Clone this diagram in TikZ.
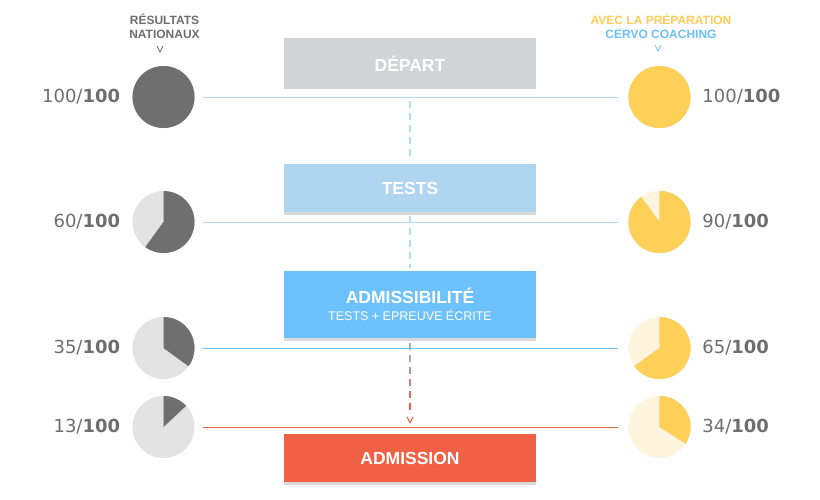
\documentclass[tikz,border=0pt]{standalone}
\usepackage{fontspec}
\setmainfont{Liberation Sans}
\newfontfamily\numfont{DejaVu Sans}
\usetikzlibrary{positioning,calc}

\definecolor{pieDark}{HTML}{6F6F6F}
\definecolor{pieGrey}{HTML}{E3E3E3}
\definecolor{pieShadeL}{HTML}{C8C8C8}
\definecolor{pieYellow}{HTML}{FFD057}
\definecolor{pieCream}{HTML}{FFF4DE}
\definecolor{pieShadeR}{HTML}{D8D2C6}
\definecolor{txtGrey}{HTML}{6E6E6E}
\definecolor{departGrey}{HTML}{D2D3D5}
\definecolor{testsBlue}{HTML}{B0D5F0}
\definecolor{admBlue}{HTML}{6DC1FD}
\definecolor{admRed}{HTML}{F06044}
\definecolor{boxShadow}{HTML}{D9D9D9}
\definecolor{lineBlue}{HTML}{B3DBF0}
\definecolor{lineMid}{HTML}{6EC2FA}
\definecolor{lineRed}{HTML}{E8654C}
\definecolor{flowBlue}{HTML}{B1DCF5}
\definecolor{flowGrey}{HTML}{8FB8E0}
\definecolor{hdYellow}{HTML}{FFCC55}
\definecolor{hdBlue}{HTML}{6DC0F8}

\tikzset{
  stage/.style={rectangle, minimum width=252pt, inner sep=0pt, text=white,
    font=\fontsize{17.5}{20}\selectfont\bfseries, align=center},
  pie/.style={circle, minimum size=62pt, inner sep=0pt},
  score/.style={font=\numfont\fontsize{18}{20}\selectfont, text=txtGrey, inner sep=0pt},
  head/.style={font=\fontsize{12}{14}\selectfont\bfseries, align=center, inner sep=0pt},
  rowline/.style={line width=1pt, shorten <=8pt, shorten >=10pt},
  flow/.style={line width=1.6pt, dash pattern=on 7pt off 5pt},
}

\begin{document}
\begin{tikzpicture}[x=1pt,y=1pt]
\useasboundingbox[fill=white] (0,0) rectangle (820,-499);

% Headers
\node[head, text=txtGrey] (hdNat) at (164.5,-26) {RÉSULTATS\\NATIONAUX};
\draw[txtGrey, line width=0.8pt] (157,-46) -- (160,-52) -- (163,-46);
\node[head] (hdCervo) at (661,-26) {\textcolor{hdYellow}{AVEC LA PRÉPARATION}\\\textcolor{hdBlue}{CERVO COACHING}};
\draw[hdBlue, line width=0.8pt] (655,-45) -- (658,-51) -- (661,-45);

% Stages
\node[stage, fill=departGrey, minimum height=51pt] (depart) at (410,-63.5) {DÉPART};
\node[stage, fill=testsBlue, minimum height=48pt] (tests) at (410,-188) {TESTS};
\node[stage, fill=admBlue, minimum height=67pt] (admissib) at (410,-304.5)
  {ADMISSIBILITÉ\\[-3pt]{\fontsize{12.5}{14}\selectfont\mdseries TESTS + EPREUVE ÉCRITE}};
\node[stage, fill=admRed, minimum height=48pt] (admission) at (410,-458) {ADMISSION};
\foreach \b in {tests,admissib,admission}
  \fill[boxShadow] (\b.south west) rectangle ([yshift=-3pt]\b.south east);

% Rows: pies, scores and lines
\foreach \n/\y/\l/\r/\lc in {1/97/100/100/lineBlue, 2/222/60/90/lineBlue,
                             3/348/35/65/lineMid, 4/427/13/34/lineRed}{
  \node[pie, fill=pieGrey] (pl\n) at (163.5,-\y) {};
  \fill[pieShadeL, shift={(0.5,-2)}] (pl\n.center) -- ++(90:31)
    arc[start angle=90, delta angle=-3.6*\l, radius=31] -- cycle;
  \fill[pieDark] (pl\n.center) -- ++(90:31)
    arc[start angle=90, delta angle=-3.6*\l, radius=31] -- cycle;
  \node[score, left=12pt of pl\n] (sl\n) {\l/\textbf{100}};

  \node[pie, fill=pieCream] (pr\n) at (659.5,-\y) {};
  \fill[pieShadeR, shift={(0.5,-2)}] (pr\n.center) -- ++(90:31)
    arc[start angle=90, delta angle=-3.6*\r, radius=31] -- cycle;
  \fill[pieYellow] (pr\n.center) -- ++(90:31)
    arc[start angle=90, delta angle=-3.6*\r, radius=31] -- cycle;
  \node[score, right=11.5pt of pr\n] (sr\n) {\r/\textbf{100}};

  \draw[rowline, \lc] (pl\n) -- (pr\n);
}

% Flow between stages
\draw[flow, flowBlue, shorten <=12pt, shorten >=7pt] (depart.south) -- (tests.north);
\draw[flow, flowBlue, shorten <=4pt, shorten >=3pt] (tests.south) -- (admissib.north);
\foreach \k [evaluate=\k as \mix using 100*\k/5] in {0,...,5}
  \draw[line width=1.6pt, admRed!\mix!flowGrey]
    ($(admissib.south)+(0,-5-12*\k)$) -- ($(admissib.south)+(0,-12-12*\k)$);
\draw[admRed, line width=1pt] ($(admission.north)+(-3,17)$) -- ($(admission.north)+(0,11)$)
  -- ($(admission.north)+(3,17)$);
\end{tikzpicture}
\end{document}
